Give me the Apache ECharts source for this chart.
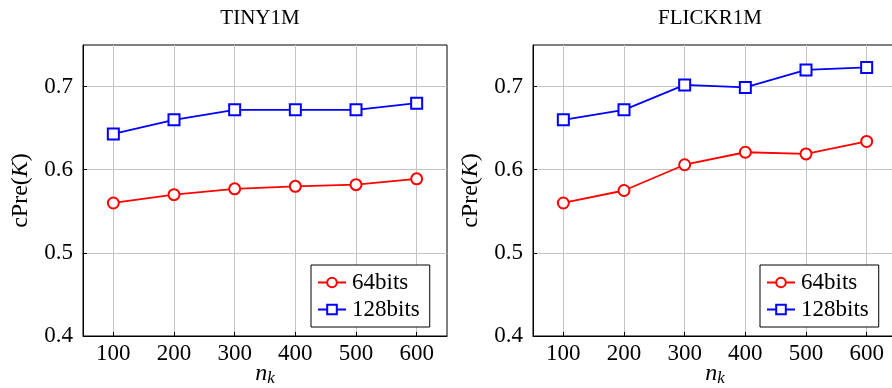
<!DOCTYPE html>
<html>
<head>
<meta charset="utf-8">
<script src="https://cdn.jsdelivr.net/npm/echarts@6/dist/echarts.min.js"></script>
<style>
  html, body { margin: 0; padding: 0; background: #fff; }
  #chart { width: 892px; height: 388px; }
</style>
</head>
<body>
<div id="chart"></div>
<script>
// Number of clusters n_k on the x axis
const nk = [100, 200, 300, 400, 500, 600];
const xTicks = [100, 200, 300, 400, 500, 600];
const yTicks = [0.4, 0.5, 0.6, 0.7];

const panelTitles = ['TINY1M', 'FLICKR1M'];

// cPre(K) per dataset and code length
const tiny64 = [0.560, 0.570, 0.577, 0.580, 0.582, 0.589];
const tiny128 = [0.643, 0.660, 0.672, 0.672, 0.672, 0.680];
const flickr64 = [0.560, 0.575, 0.606, 0.621, 0.619, 0.634];
const flickr128 = [0.660, 0.672, 0.702, 0.699, 0.720, 0.723];

const FONT = 'Liberation Serif';
const RED = '#ff0000';
const BLUE = '#0000ff';

const grids = [
  { left: 83, top: 45, width: 364, height: 291 },
  { left: 533, top: 45, width: 364, height: 291 }
];

function xAxisFor(i) {
  return {
    type: 'value', gridIndex: i, min: 50, max: 650,
    name: '{i|n}{s|k}', nameLocation: 'middle', nameGap: 26, nameMoveOverlap: false,
    nameTextStyle: {
      rich: {
        i: { fontFamily: FONT, fontStyle: 'italic', fontSize: 24, color: '#000', lineHeight: 24 },
        s: { fontFamily: FONT, fontStyle: 'italic', fontSize: 17, color: '#000', lineHeight: 24, padding: [10, 0, 0, 0] }
      }
    },
    axisLine: { show: true, onZero: false, lineStyle: { color: '#000', width: 1 } },
    axisTick: { show: true, inside: true, length: 4, customValues: xTicks, lineStyle: { color: '#000' } },
    axisLabel: { customValues: xTicks, fontFamily: FONT, fontSize: 23, color: '#000', margin: 6 },
    splitLine: { show: true, customValues: xTicks, lineStyle: { color: '#c4c4c4', width: 1 } }
  };
}

function yAxisFor(i) {
  return {
    type: 'value', gridIndex: i, min: 0.4, max: 0.75, interval: 0.1,
    name: '{n|cPre(}{i|K}{n|)}', nameLocation: 'middle', nameRotate: 90, nameGap: 50, nameMoveOverlap: false,
    nameTextStyle: {
      rich: {
        n: { fontFamily: FONT, fontSize: 24, color: '#000' },
        i: { fontFamily: FONT, fontStyle: 'italic', fontSize: 24, color: '#000' }
      }
    },
    axisLine: { show: true, lineStyle: { color: '#000', width: 1 } },
    axisTick: { show: true, inside: true, length: 4, customValues: yTicks, lineStyle: { color: '#000' } },
    axisLabel: { customValues: yTicks, fontFamily: FONT, fontSize: 23, color: '#000', margin: 10,
      formatter: v => v.toFixed(1) },
    splitLine: { show: true, lineStyle: { color: '#c4c4c4', width: 1 } }
  };
}

function lineSeries(name, values, color, symbol, i) {
  return {
    name: name, type: 'line', xAxisIndex: i, yAxisIndex: i,
    data: nk.map((x, k) => [x, values[k]]),
    symbol: symbol, symbolSize: 11, showAllSymbol: true,
    color: color,
    lineStyle: { color: color, width: 1.8 },
    itemStyle: { color: color, borderColor: color, borderWidth: 2 },
    animation: false
  };
}

function legendFor(left) {
  return {
    left: left, top: 265, orient: 'vertical',
    data: ['64bits', '128bits'],
    backgroundColor: '#fff', borderColor: '#000', borderWidth: 1,
    padding: [6, 10, 6, 6], itemGap: 4, itemWidth: 28, itemHeight: 12,
    textStyle: { fontFamily: FONT, fontSize: 23, color: '#000', lineHeight: 22, padding: [0, 0, 0, 1] }
  };
}

const chart = echarts.init(document.getElementById('chart'), null, { renderer: 'canvas' });
chart.setOption({
  backgroundColor: '#fff',
  animation: false,
  title: panelTitles.map((t, i) => ({
    text: t, left: grids[i].left + grids[i].width / 2 - 10, top: 3, textAlign: 'center',
    textStyle: { fontFamily: FONT, fontSize: 21, fontWeight: 'normal', color: '#000' }
  })),
  grid: grids.map(g => Object.assign({
    show: true, borderColor: '#000', borderWidth: 1, backgroundColor: 'transparent',
    containLabel: false, outerBoundsMode: 'none'
  }, g)),
  xAxis: [xAxisFor(0), xAxisFor(1)],
  yAxis: [yAxisFor(0), yAxisFor(1)],
  legend: [legendFor(311), legendFor(760)],
  series: [
    lineSeries('64bits', tiny64, RED, 'emptyCircle', 0),
    lineSeries('128bits', tiny128, BLUE, 'emptyRect', 0),
    lineSeries('64bits', flickr64, RED, 'emptyCircle', 1),
    lineSeries('128bits', flickr128, BLUE, 'emptyRect', 1)
  ]
});
</script>
</body>
</html>
